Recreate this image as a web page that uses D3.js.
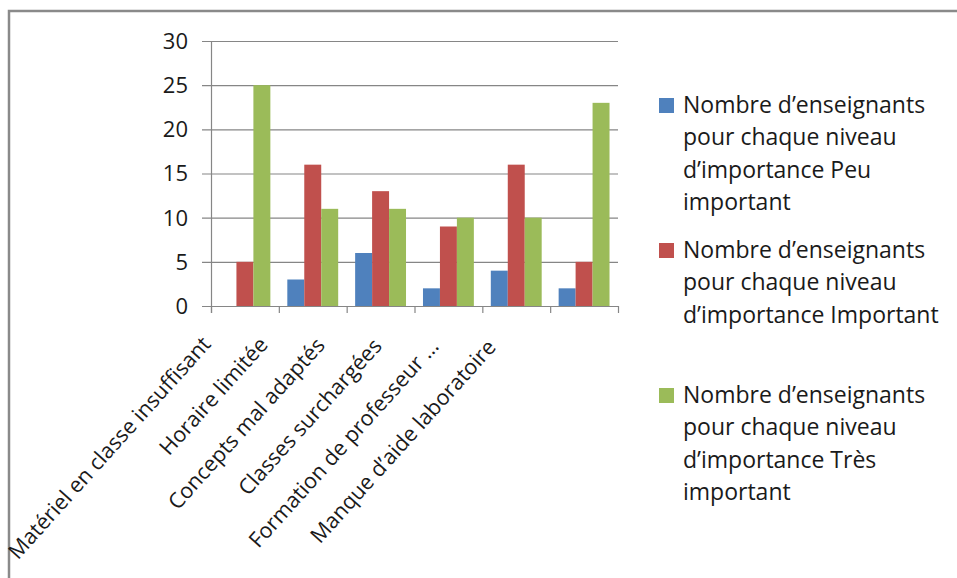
<!DOCTYPE html>
<html>
<head>
<meta charset="utf-8">
<script src="https://cdn.jsdelivr.net/npm/d3@7"></script>
<style>
  html, body { margin: 0; padding: 0; background: #fff; }
  svg { display: block; }
  text { font-family: "Open Sans", Lato, sans-serif; fill: #1a1a1a; }
</style>
</head>
<body>
<svg id="chart" width="957" height="578"></svg>
<script>
const categories = [
  "Matériel en classe insuffisant",
  "Horaire limitée",
  "Concepts mal adaptés",
  "Classes surchargées",
  "Formation de professeur …",
  "Manque d’aide laboratoire"
];
const seriesNames = [
  "Nombre d’enseignants pour chaque niveau d’importance Peu important",
  "Nombre d’enseignants pour chaque niveau d’importance Important",
  "Nombre d’enseignants pour chaque niveau d’importance Très important"
];
const peuImportant = [0, 3, 6, 2, 4, 2];
const important = [5, 16, 13, 9, 16, 5];
const tresImportant = [25, 11, 11, 10, 10, 23];
const yTicks = [0, 5, 10, 15, 20, 25, 30];
const colors = ["#4F81BD", "#C0504D", "#9BBB59"];

const seriesValues = [peuImportant, important, tresImportant];
const svg = d3.select("#chart");

// frame (cropped at right & bottom)
svg.append("path")
  .attr("d", "M9,578 V11 H957")
  .attr("fill", "none").attr("stroke", "#8a8a8a").attr("stroke-width", 2.5);

const plot = { left: 211, right: 618, top: 41, bottom: 306 };

const y = d3.scaleLinear().domain([0, 30]).range([plot.bottom, plot.top]);
const x0 = d3.scaleBand().domain(categories).range([plot.left, plot.right]).paddingInner(0).paddingOuter(0);
const x1 = d3.scaleBand().domain(d3.range(3)).range([0, x0.bandwidth()]).paddingOuter(0.5).paddingInner(0);

// gridlines
svg.append("g")
  .selectAll("line").data(yTicks).join("line")
  .attr("x1", plot.left - 9).attr("x2", plot.right)
  .attr("y1", d => y(d) + 0.5).attr("y2", d => y(d) + 0.5)
  .attr("stroke", "#868686").attr("stroke-width", 1.2);

// y labels
svg.append("g")
  .selectAll("text").data(yTicks).join("text")
  .attr("x", plot.left - 23).attr("y", d => y(d))
  .attr("dy", "0.36em")
  .attr("text-anchor", "end")
  .style("font-size", "22px")
  .text(d => d);

// bars
const groups = svg.append("g").selectAll("g").data(categories).join("g")
  .attr("transform", d => `translate(${x0(d)},0)`);
groups.selectAll("rect")
  .data((d, i) => seriesValues.map((s, k) => ({ k, v: s[i] })))
  .join("rect")
  .attr("x", d => x1(d.k))
  .attr("width", x1.bandwidth())
  .attr("y", d => y(d.v))
  .attr("height", d => y(0) - y(d.v))
  .attr("fill", d => colors[d.k]);

// axes lines
svg.append("line")
  .attr("x1", plot.left + 0.5).attr("x2", plot.left + 0.5)
  .attr("y1", plot.top).attr("y2", plot.bottom + 7)
  .attr("stroke", "#868686").attr("stroke-width", 1.2);
svg.append("line")
  .attr("x1", plot.left).attr("x2", plot.right)
  .attr("y1", plot.bottom + 0.5).attr("y2", plot.bottom + 0.5)
  .attr("stroke", "#868686").attr("stroke-width", 1.2);
// category tick marks
const tickXs = categories.map(c => x0(c)).concat([plot.right]);
svg.append("g").selectAll("line").data(tickXs).join("line")
  .attr("x1", d => d + 0.5).attr("x2", d => d + 0.5)
  .attr("y1", plot.bottom).attr("y2", plot.bottom + 7)
  .attr("stroke", "#868686").attr("stroke-width", 1.2);

// rotated category labels
const xl = d3.scalePoint().domain(categories).range([212, 497]);
svg.append("g").selectAll("text").data(categories).join("text")
  .attr("transform", (d, i) => `translate(${xl(d)},${345 + i * 0.6}) rotate(-48)`)
  .attr("text-anchor", "end")
  .style("font-size", "21.5px")
  .text(d => d);

// legend
const legend = svg.append("g");
const legendY = d3.scalePoint().domain(d3.range(3)).range([113, 403]);
const maxW = 275;
seriesNames.forEach((name, i) => {
  const gy = legendY(i);
  legend.append("rect")
    .attr("x", 659).attr("y", gy - 15).attr("width", 15).attr("height", 15)
    .attr("fill", colors[i]);
  const t = legend.append("text")
    .attr("x", 683).attr("y", gy)
    .style("font-size", "23px");
  const words = name.split(" ");
  let line = [];
  let tspan = t.append("tspan").attr("x", 683).attr("dy", 0);
  words.forEach(w => {
    line.push(w);
    tspan.text(line.join(" "));
    if (tspan.node().getComputedTextLength() > maxW && line.length > 1) {
      line.pop();
      tspan.text(line.join(" "));
      line = [w];
      tspan = t.append("tspan").attr("x", 683).attr("dy", 32.3).text(w);
    }
  });
});
</script>
</body>
</html>
